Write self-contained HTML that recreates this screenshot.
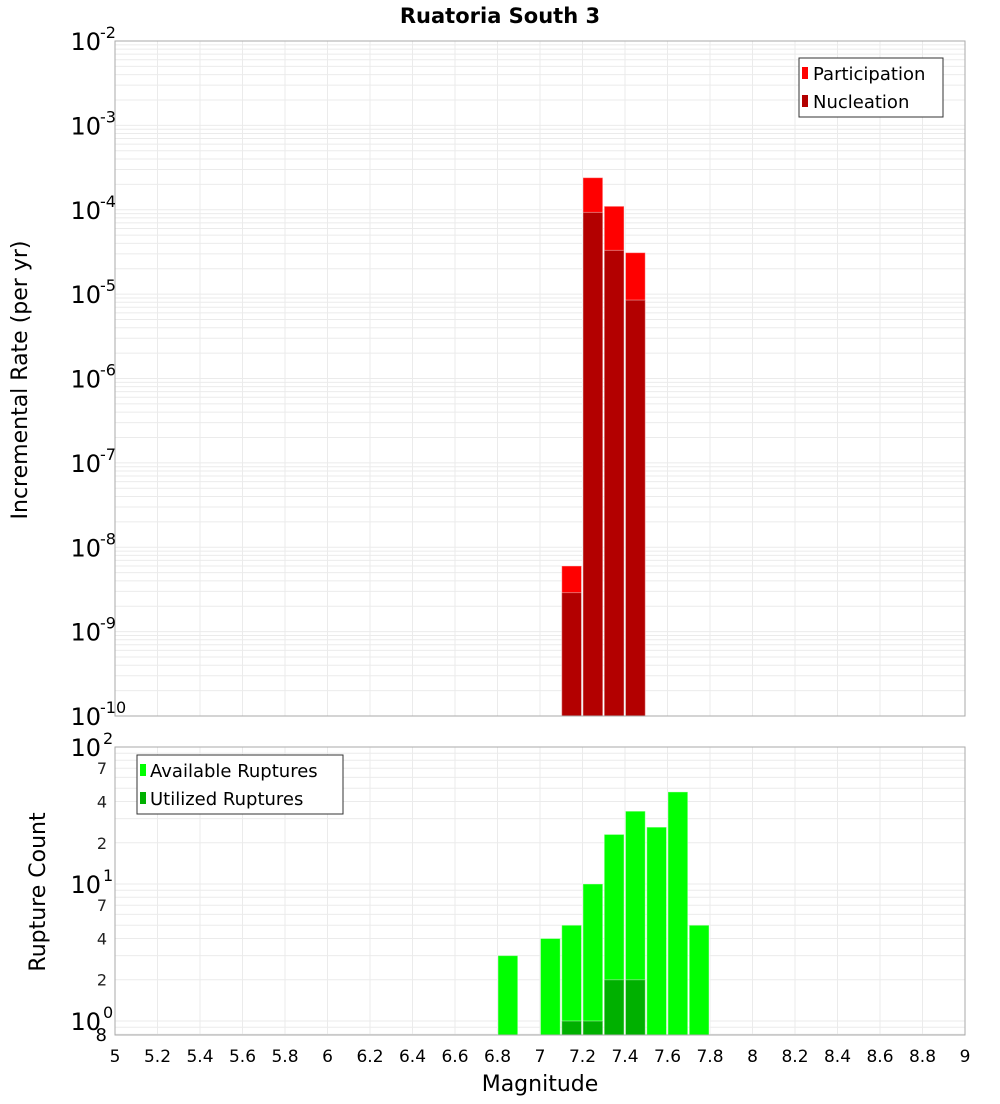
<!DOCTYPE html>
<html><head><meta charset="utf-8"><style>
body{margin:0;background:#fff;font-family:"DejaVu Sans","Liberation Sans",sans-serif}
svg text{font-family:"DejaVu Sans","Liberation Sans",sans-serif}
</style></head><body>
<svg id="c" width="1000" height="1100" viewBox="0 0 1000 1100" xmlns="http://www.w3.org/2000/svg">
<text x="500" y="23" text-anchor="middle" font-size="21" font-weight="bold">Ruatoria South 3</text>
<g id="gtop"></g><g id="gbot"></g>
<text transform="translate(27,380) rotate(-90)" text-anchor="middle" font-size="22">Incremental Rate (per yr)</text>
<text transform="translate(45,892) rotate(-90)" text-anchor="middle" font-size="22">Rupture Count</text>
<text x="540" y="1091" text-anchor="middle" font-size="22">Magnitude</text>
<g>
<rect x="799" y="58" width="144" height="59" fill="#fff" stroke="#333"/>
<rect x="802" y="67" width="6" height="12" fill="#ff0000"/><text x="813" y="80" font-size="18">Participation</text>
<rect x="802" y="95" width="6" height="12" fill="#b30000"/><text x="813" y="108" font-size="18">Nucleation</text>
</g>
<g>
<rect x="137" y="755" width="206" height="59" fill="#fff" stroke="#333"/>
<rect x="140" y="764" width="6" height="12" fill="#00ff00"/><text x="150" y="777" font-size="18">Available Ruptures</text>
<rect x="140" y="792" width="6" height="12" fill="#00b000"/><text x="150" y="805" font-size="18">Utilized Ruptures</text>
</g>
</svg>
<script>
const rateMags=[7.15,7.25,7.35,7.45];
const participation=[6e-9,2.4e-4,1.1e-4,3.1e-5];
const nucleation=[2.9e-9,9.3e-5,3.3e-5,8.5e-6];
const countMags=[6.85,7.05,7.15,7.25,7.35,7.45,7.55,7.65,7.75];
const available=[3,4,5,10,23,34,26,47,5];
const utilizedMags=[7.15,7.25,7.35,7.45];
const utilized=[1,1,2,2];
const xTicks=["5","5.2","5.4","5.6","5.8","6","6.2","6.4","6.6","6.8","7","7.2","7.4","7.6","7.8","8","8.2","8.4","8.6","8.8","9"];
const NS="http://www.w3.org/2000/svg";
const L=115,R=965;
const x=m=>L+(m-5)/4*(R-L);
const T1=41,B1=716,yT=v=>T1+(-2-Math.log10(v))/8*(B1-T1);
const T2=747,B2=1035,lo=Math.log10(0.79),yB=v=>T2+(2-Math.log10(v))/(2-lo)*(B2-T2);
function mk(p,tag,a){const e=document.createElementNS(NS,tag);for(const k in a)e.setAttribute(k,a[k]);p.appendChild(e);return e;}
const gTop=document.getElementById('gtop'),gBot=document.getElementById('gbot');
function grid(g,T,B,ymap,dmin,dmax){
 mk(g,'rect',{x:L,y:T,width:R-L,height:B-T,fill:'#fff'});
 for(let d=dmin;d<dmax;d++)for(let k=1;k<10;k++){const y=ymap(k*Math.pow(10,d));if(y<T||y>B)continue;
  const l=mk(g,'line',{x1:L,x2:R,y1:y,y2:y,stroke:'#ebebeb','stroke-width':1});
  
  }
 xTicks.forEach(t=>{const X=x(+t);const l=mk(g,'line',{x1:X,x2:X,y1:T,y2:B,stroke:'#ebebeb'});
  
  });
}
grid(gTop,T1,B1,yT,-10,-2);
grid(gBot,T2,B2,yB,-1,2);
const bw=0.1*(R-L)/4;
function bar(g,m,v,ymap,B,col,name){const X=x(m-0.05);const y=ymap(v);
 const r=mk(g,'rect',{x:X+0.5,y:y,width:bw-1.5,height:B-y,fill:col,stroke:'#fff','stroke-opacity':0.4,'stroke-width':1});
 
 }
rateMags.forEach((m,i)=>bar(gTop,m,participation[i],yT,B1,'#ff0000','bar-participation'));
rateMags.forEach((m,i)=>bar(gTop,m,nucleation[i],yT,B1,'#b30000','bar-nucleation'));
countMags.forEach((m,i)=>bar(gBot,m,available[i],yB,B2,'#00ff00','bar-available'));
utilizedMags.forEach((m,i)=>bar(gBot,m,utilized[i],yB,B2,'#00b000','bar-utilized'));
mk(gTop,'rect',{x:L,y:T1,width:R-L,height:B1-T1,fill:'none',stroke:'#aaa'});
mk(gBot,'rect',{x:L,y:T2,width:R-L,height:B2-T2,fill:'none',stroke:'#aaa'});
for(let e=-2;e>=-10;e--){const y=yT(Math.pow(10,e));
 const t=mk(gTop,'text',{x:101,y:y+9,'text-anchor':'end','font-size':24});t.textContent='10';
 
 
 const s=mk(gTop,'text',{x:100,y:y-3,'font-size':16});s.textContent=String(e);}
[[100,'2'],[10,'1'],[1,'0']].forEach(([v,e])=>{const y=yB(v);
 const t=mk(gBot,'text',{x:101,y:y+9,'text-anchor':'end','font-size':24});t.textContent='10';
 
 
 const s=mk(gBot,'text',{x:103,y:y-3,'font-size':16});s.textContent=e;});
[7,4,2,70,40,20].forEach(v=>{const t=mk(gBot,'text',{x:107,y:yB(v)+6,'text-anchor':'end','font-size':16,fill:'#222'});t.textContent=String(v).charAt(0);
 
 });
{const t=mk(gBot,'text',{x:107,y:1041,'text-anchor':'end','font-size':18});t.textContent='8';}
xTicks.forEach(s=>{const t=mk(gBot,'text',{x:x(+s),y:1062,'text-anchor':'middle','font-size':17});t.textContent=s;
 
 });
</script>
</body></html>
